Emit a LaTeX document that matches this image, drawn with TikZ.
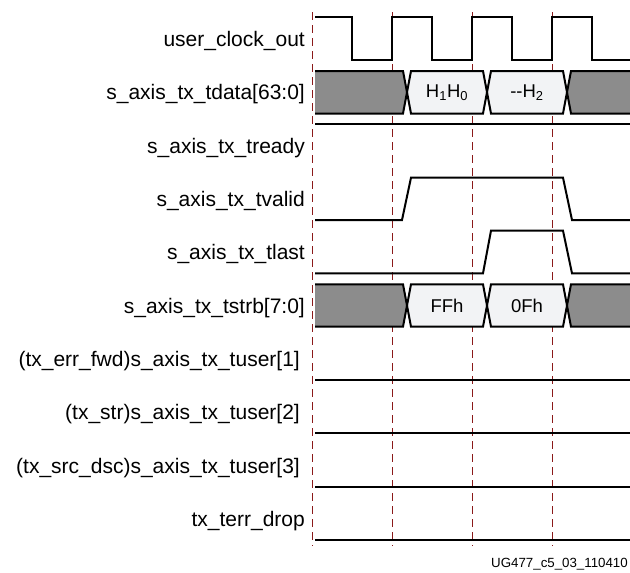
\documentclass[tikz,border=0pt]{standalone}
\usepackage{fontspec}
\setmainfont{Liberation Sans}
\definecolor{dashred}{HTML}{8B1A1A}
\definecolor{busgrey}{HTML}{8C8C8C}
\definecolor{buslight}{HTML}{F2F3F5}
\begin{document}
\begin{tikzpicture}[x=1pt,y=-1pt,
  sig/.style={line width=2pt, line join=miter, black},
  dashline/.style={line width=1pt, dashred, dash pattern=on 8pt off 5pt},
  lbl/.style={anchor=east, inner sep=0pt, font=\fontsize{21}{21}\selectfont},
  datalbl/.style={inner sep=0pt, font=\fontsize{18.5}{19}\selectfont},
  foot/.style={anchor=east, inner sep=0pt, font=\fontsize{13.3}{14}\selectfont}]
\useasboundingbox (0,0) rectangle (630,573);
\fill[white] (0,0) rectangle (630,573);

% vertical dashed guide lines
\foreach \xx in {312,392,472,552}
  \draw[dashline] (\xx,12) -- (\xx,546);

% labels
\node[lbl] (lclk)  at (305,41)    {user\_clock\_out};
\node[lbl] (ldata) at (305,94.3)  {s\_axis\_tx\_tdata[63:0]};
\node[lbl] (lrdy)  at (305,147.7) {s\_axis\_tx\_tready};
\node[lbl] (lval)  at (305,201)   {s\_axis\_tx\_tvalid};
\node[lbl] (llast) at (305,254.3) {s\_axis\_tx\_tlast};
\node[lbl] (lstrb) at (305,307.7) {s\_axis\_tx\_tstrb[7:0]};
\node[lbl] (lu1)   at (300,361)   {(tx\_err\_fwd)s\_axis\_tx\_tuser[1]};
\node[lbl] (lu2)   at (300,414.3) {(tx\_str)s\_axis\_tx\_tuser[2]};
\node[lbl] (lu3)   at (300,467.7) {(tx\_src\_dsc)s\_axis\_tx\_tuser[3]};
\node[lbl] (ldrop) at (305,521)   {tx\_terr\_drop};

% clock
\draw[sig] (315,17.3) -- (352,17.3) -- (352,60) -- (392,60) -- (392,17.3) -- (432,17.3)
  -- (432,60) -- (472,60) -- (472,17.3) -- (512,17.3) -- (512,60) -- (552,60)
  -- (552,17.3) -- (592,17.3) -- (592,60) -- (632,60);

% buses
\foreach \T/\B in {71/113.5, 284.3/326.7}{
  \pgfmathsetmacro{\M}{(\T+\B)/2}
  \fill[busgrey] (315,\T) -- (403,\T) -- (407,\M) -- (403,\B) -- (315,\B) -- cycle;
  \fill[buslight] (411,\T) -- (483,\T) -- (487,\M) -- (483,\B) -- (411,\B) -- (407,\M) -- cycle;
  \fill[buslight] (491,\T) -- (563,\T) -- (567,\M) -- (563,\B) -- (491,\B) -- (487,\M) -- cycle;
  \fill[busgrey] (571,\T) -- (632,\T) -- (632,\B) -- (571,\B) -- (567,\M) -- cycle;
  \draw[sig] (315,\T) -- (403,\T) -- (411,\B) -- (483,\B) -- (491,\T) -- (563,\T) -- (571,\B) -- (632,\B);
  \draw[sig] (315,\B) -- (403,\B) -- (411,\T) -- (483,\T) -- (491,\B) -- (563,\B) -- (571,\T) -- (632,\T);
}
\node[datalbl] (d1) at (447,92.3) {H\textsubscript{1}H\textsubscript{0}};
\node[datalbl] (d2) at (527,92.3) {-{}-H\textsubscript{2}};
\node[datalbl] (s1) at (447,305.5) {FFh};
\node[datalbl] (s2) at (527,305.5) {0Fh};

% tready
\draw[sig] (315,124) -- (632,124);
% tvalid
\draw[sig] (315,220) -- (402,220) -- (411,177.7) -- (563,177.7) -- (572,220) -- (632,220);
% tlast
\draw[sig] (315,273.3) -- (483,273.3) -- (491,230.7) -- (563,230.7) -- (572,273.3) -- (632,273.3);
% tuser / terr_drop
\foreach \yy in {380,433.3,486.7,540}
  \draw[sig] (315,\yy) -- (632,\yy);

\node[foot] (fig) at (628,564.3) {UG477\_c5\_03\_110410};
\end{tikzpicture}
\end{document}
